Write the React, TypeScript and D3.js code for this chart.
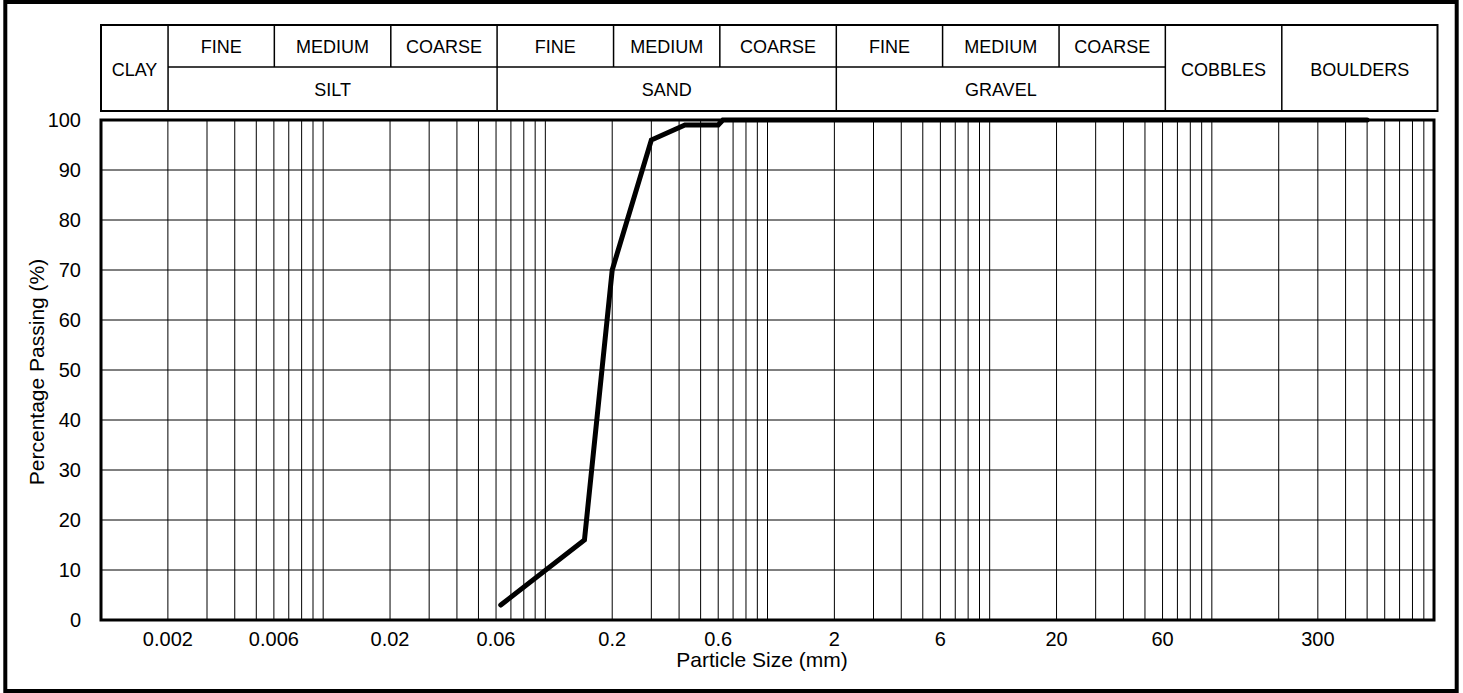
import React from 'react';
import * as d3 from 'd3';

// particle size distribution (sieve results)
const sizes = [0.063, 0.15, 0.2, 0.3, 0.425, 0.6, 0.63, 500];
const passing = [3, 16, 70, 96, 99, 99, 100, 100];

const xTickLabels = [0.002, 0.006, 0.02, 0.06, 0.2, 0.6, 2, 6, 20, 60, 300];
const yTicks = [0, 10, 20, 30, 40, 50, 60, 70, 80, 90, 100];

// soil classification header
const subBounds = [0.002, 0.006, 0.02, 0.06, 0.2, 0.6, 2, 6, 20, 60];
const subLabels = ['FINE', 'MEDIUM', 'COARSE'];
const mainFractions = ['SILT', 'SAND', 'GRAVEL'];
const mainBounds = [0.002, 0.06, 2, 60];
const sideCells = [
  { label: 'CLAY', from: 0.001, to: 0.002 },
  { label: 'COBBLES', from: 60, to: 200 },
  { label: 'BOULDERS', from: 200, to: 1000 },
];

const W = 1463;
const H = 693;
const plot = { left: 101, right: 1434, top: 120, bottom: 620 };
const head = { top: 25, mid: 67, bottom: 111 };
const font = '"Liberation Sans", Arial, Helvetica, sans-serif';

const App: React.FC = () => {
  const x = d3.scaleLog().domain([0.001, 1000]).range([plot.left, plot.right]);
  const y = d3.scaleLinear().domain([0, 100]).range([plot.bottom, plot.top]);
  // header table is a touch wider than the plot
  const hx = x.copy().range([plot.left, plot.right + 3.5]);

  const line = d3
    .line<number>()
    .x((_, i) => x(sizes[i]))
    .y((d) => y(d));

  const grid = x.ticks();

  return (
    <svg
      width={W}
      height={H}
      style={{ position: 'absolute', left: 0, top: 0, background: '#fff' }}
      fontFamily={font}
    >
      <rect x={0} y={0} width={W} height={H} fill="#fff" />
      {/* outer frame */}
      <rect x={5.3} y={2} width={1451.4} height={689} fill="none" stroke="#000" strokeWidth={4} />

      {/* header table */}
      <g stroke="#000" fill="none">
        <rect
          x={hx(0.001)}
          y={head.top}
          width={hx(1000) - hx(0.001)}
          height={head.bottom - head.top}
          strokeWidth={2}
        />
        <line x1={hx(0.002)} x2={hx(60)} y1={head.mid} y2={head.mid} strokeWidth={1.5} />
        {subBounds.map((b, i) => (
          <line
            key={'sb' + i}
            x1={hx(b)}
            x2={hx(b)}
            y1={head.top}
            y2={mainBounds.includes(b) ? head.bottom : head.mid}
            strokeWidth={1.5}
          />
        ))}
        <line x1={hx(200)} x2={hx(200)} y1={head.top} y2={head.bottom} strokeWidth={1.5} />
      </g>
      <g fontSize={18} textAnchor="middle" dominantBaseline="central" fill="#000">
        {subBounds.slice(0, -1).map((b, i) => (
          <text key={'sl' + i} x={(hx(b) + hx(subBounds[i + 1])) / 2} y={(head.top + head.mid) / 2 + 1}>
            {subLabels[i % 3]}
          </text>
        ))}
        {mainFractions.map((f, i) => (
          <text key={'mf' + i} x={(hx(mainBounds[i]) + hx(mainBounds[i + 1])) / 2} y={(head.mid + head.bottom) / 2 + 1}>
            {f}
          </text>
        ))}
        {sideCells.map((c) => (
          <text key={c.label} x={(hx(c.from) + hx(c.to)) / 2} y={(head.top + head.bottom) / 2 + 2}>
            {c.label}
          </text>
        ))}
      </g>

      {/* grid */}
      <g stroke="#000" strokeWidth={1}>
        {grid.map((t, i) => (
          <line key={'gx' + i} x1={x(t)} x2={x(t)} y1={plot.top} y2={plot.bottom} />
        ))}
        {yTicks.map((t) => (
          <line key={'gy' + t} x1={plot.left} x2={plot.right} y1={y(t)} y2={y(t)} />
        ))}
      </g>

      {/* grading curve */}
      <path
        d={line(passing) ?? undefined}
        fill="none"
        stroke="#000"
        strokeWidth={5}
        strokeLinejoin="miter"
        strokeLinecap="round"
      />

      {/* plot frame */}
      <rect
        x={plot.left}
        y={plot.top}
        width={plot.right - plot.left}
        height={plot.bottom - plot.top}
        fill="none"
        stroke="#000"
        strokeWidth={3}
      />

      {/* axes labels */}
      <g fontSize={20} fill="#000">
        {yTicks.map((t) => (
          <text key={'yl' + t} x={81} y={y(t)} textAnchor="end" dominantBaseline="central">
            {t}
          </text>
        ))}
        {xTickLabels.map((t) => (
          <text key={'xl' + t} x={x(t)} y={639} textAnchor="middle" dominantBaseline="central">
            {t}
          </text>
        ))}
      </g>
      <text x={762} y={659} fontSize={21} textAnchor="middle" dominantBaseline="central">
        Particle Size (mm)
      </text>
      <text
        transform={`translate(36,${(plot.top + plot.bottom) / 2 + 2}) rotate(-90)`}
        fontSize={21}
        textAnchor="middle"
        dominantBaseline="central"
      >
        Percentage Passing (%)
      </text>
    </svg>
  );
};

export default App;
